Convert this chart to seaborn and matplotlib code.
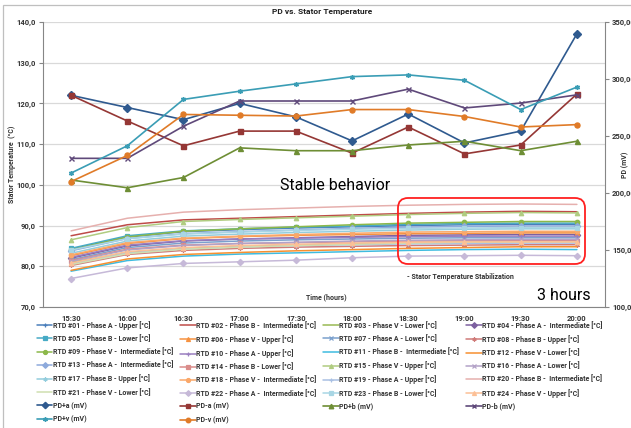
import matplotlib
matplotlib.use("Agg")
from matplotlib import pyplot as plt
from matplotlib.patches import FancyBboxPatch, Rectangle
from matplotlib.ticker import FuncFormatter, MultipleLocator, FixedLocator
import seaborn as sns

# Time axis
times = ["15:30", "16:00", "16:30", "17:00", "17:30", "18:00", "18:30", "19:00", "19:30", "20:00"]

# Stator RTD temperatures [°C] (left axis)
rtd_names = [
    "RTD #01 - Phase A - Upper [°C]", "RTD #02 - Phase B -  Intermediate [°C]",
    "RTD #03 - Phase V - Lower [°C]", "RTD #04 - Phase A -  Intermediate [°C]",
    "RTD #05 - Phase B - Lower [°C]", "RTD #06 - Phase V - Upper [°C]",
    "RTD #07 - Phase A - Lower [°C]", "RTD #08 - Phase B - Upper [°C]",
    "RTD #09 - Phase V -  Intermediate [°C]", "RTD #10 - Phase A - Upper [°C]",
    "RTD #11 - Phase B -  Intermediate [°C]", "RTD #12 - Phase V - Lower [°C]",
    "RTD #13 - Phase A -  Intermediate [°C]", "RTD #14 - Phase B - Lower [°C]",
    "RTD #15 - Phase V - Upper [°C]", "RTD #16 - Phase A - Lower [°C]",
    "RTD #17 - Phase B - Upper [°C]", "RTD #18 - Phase V -  Intermediate [°C]",
    "RTD #19 - Phase A - Upper [°C]", "RTD #20 - Phase B -  Intermediate [°C]",
    "RTD #21 - Phase V - Lower [°C]", "RTD #22 - Phase A -  Intermediate [°C]",
    "RTD #23 - Phase B - Lower [°C]", "RTD #24 - Phase V - Upper [°C]",
]
rtd01 = [84.2, 87.2, 88.5, 89.0, 89.4, 89.7, 90.0, 90.2, 90.3, 90.3]
rtd02 = [87.5, 90.2, 91.4, 91.8, 92.2, 92.6, 93.0, 93.3, 93.5, 93.4]
rtd03 = [81.0, 83.4, 84.4, 84.9, 85.2, 85.5, 85.8, 86.0, 86.1, 86.1]
rtd04 = [82.0, 85.0, 86.2, 86.7, 87.0, 87.3, 87.6, 87.7, 87.8, 87.8]
rtd05 = [84.4, 87.5, 88.7, 89.2, 89.6, 89.9, 90.3, 90.5, 90.6, 90.6]
rtd06 = [82.6, 85.6, 86.8, 87.3, 87.6, 87.8, 88.0, 88.1, 88.2, 88.2]
rtd07 = [81.6, 84.6, 85.7, 86.2, 86.5, 86.7, 86.9, 87.0, 87.0, 87.0]
rtd08 = [80.2, 82.9, 83.9, 84.4, 84.7, 84.9, 85.1, 85.2, 85.3, 85.3]
rtd09 = [84.0, 87.2, 88.6, 89.2, 89.7, 90.2, 90.6, 90.8, 91.0, 91.0]
rtd10 = [82.2, 85.2, 86.3, 86.7, 86.9, 87.1, 87.3, 87.4, 87.4, 87.4]
rtd11 = [78.8, 81.4, 82.5, 83.0, 83.3, 83.6, 83.9, 84.1, 84.2, 84.1]
rtd12 = [79.0, 81.8, 82.9, 83.4, 83.8, 84.1, 84.4, 84.6, 84.8, 84.8]
rtd13 = [83.8, 86.8, 88.0, 88.5, 88.9, 89.3, 89.6, 89.8, 89.9, 89.9]
rtd14 = [81.4, 84.2, 85.2, 85.6, 85.8, 86.0, 86.2, 86.3, 86.3, 86.3]
rtd15 = [86.5, 89.5, 91.0, 91.5, 91.9, 92.3, 92.7, 93.0, 93.2, 93.1]
rtd16 = [81.2, 84.0, 85.1, 85.6, 85.9, 86.2, 86.4, 86.5, 86.6, 86.6]
rtd17 = [83.2, 86.2, 87.4, 87.9, 88.3, 88.6, 88.9, 89.1, 89.2, 89.2]
rtd18 = [82.8, 85.8, 86.9, 87.4, 87.8, 88.1, 88.4, 88.5, 88.6, 88.6]
rtd19 = [80.6, 83.3, 84.3, 84.8, 85.1, 85.3, 85.5, 85.6, 85.7, 85.7]
rtd20 = [88.7, 91.8, 93.3, 93.9, 94.3, 94.7, 95.0, 95.2, 95.3, 95.2]
rtd21 = [80.4, 83.1, 84.2, 84.7, 85.1, 85.4, 85.7, 85.9, 86.0, 86.0]
rtd22 = [77.0, 79.6, 80.7, 81.1, 81.5, 82.1, 82.5, 82.6, 82.7, 82.6]
rtd23 = [84.0, 86.8, 87.9, 88.4, 88.8, 89.1, 89.3, 89.4, 89.5, 89.5]
rtd24 = [80.8, 83.6, 84.6, 85.1, 85.4, 85.7, 85.9, 86.0, 86.0, 86.0]
rtd_values = [rtd01, rtd02, rtd03, rtd04, rtd05, rtd06, rtd07, rtd08, rtd09, rtd10, rtd11, rtd12,
              rtd13, rtd14, rtd15, rtd16, rtd17, rtd18, rtd19, rtd20, rtd21, rtd22, rtd23, rtd24]

# Partial discharge [mV] (right axis)
pd_names = ["PD+a (mV)", "PD-a (mV)", "PD+b (mV)", "PD-b (mV)", "PD+v (mV)", "PD-v (mV)"]
pd_plus_a = [285.7, 275.0, 264.3, 278.6, 266.8, 245.7, 269.3, 243.9, 254.3, 339.6]
pd_minus_a = [285.7, 263.2, 241.4, 254.3, 254.3, 235.0, 257.9, 234.3, 242.1, 286.8]
pd_plus_b = [211.4, 204.6, 213.6, 239.6, 237.1, 237.1, 242.1, 245.4, 237.1, 245.4]
pd_minus_b = [230.4, 230.4, 258.6, 280.7, 280.7, 280.7, 291.1, 274.6, 278.9, 286.1]
pd_plus_v = [217.5, 241.4, 282.1, 289.3, 295.7, 302.1, 303.6, 298.9, 273.2, 292.9]
pd_minus_v = [210.0, 232.9, 268.9, 268.2, 267.5, 273.2, 273.2, 267.1, 257.9, 260.0]
pd_values = [pd_plus_a, pd_minus_a, pd_plus_b, pd_minus_b, pd_plus_v, pd_minus_v]

# Styles
rtd_colors = ["#4A7EBB", "#BE4B48", "#98B954", "#7D60A0", "#46AAC5", "#F69240",
              "#7BA0CD", "#D07B79", "#8CB84A", "#9A7FC0", "#3FBCE0", "#F79030",
              "#8EAADC", "#DA8C8A", "#B0CC80", "#B3A2C7", "#93CDDD", "#FAA86A",
              "#A9C0E3", "#E6B0AE", "#CFDFB0", "#C6B9D8", "#A8D6E4", "#FCC096"]
marker_cycle = ["+", "", "", "D", "s", "^", "x", (6, 2, 0), "o"]
rtd_markers = [marker_cycle[i % 9] for i in range(24)]
pd_colors = ["#2F5A8F", "#953735", "#6E8E35", "#5F497A", "#3A9DB5", "#E07B28"]
pd_markers = ["D", "s", "^", "x", (6, 2, 0), "o"]

sns.set_style("white")
plt.rcParams["font.family"] = ["Roboto", "DejaVu Sans"]
plt.rcParams["font.weight"] = "bold"
txt_color = "#333333"

fig = plt.figure(figsize=(6.31, 4.28), dpi=100)
ax = fig.add_axes([0.0681, 0.2827, 0.8907, 0.6659])
ax2 = ax.twinx()

for name, vals, col, mk in zip(rtd_names, rtd_values, rtd_colors, rtd_markers):
    sns.lineplot(x=times, y=vals, ax=ax, color=col, marker=mk, markersize=3.2,
                 markeredgecolor=col, markeredgewidth=0.9, linewidth=1.1,
                 label=name, legend=False)

for name, vals, col, mk in zip(pd_names, pd_values, pd_colors, pd_markers):
    sns.lineplot(x=times, y=vals, ax=ax2, color=col, marker=mk, markersize=3.6,
                 markeredgecolor=col, markeredgewidth=1.0, linewidth=1.2,
                 label=name, legend=False)

ax.set_xlim(-0.5, 9.5)
ax.set_ylim(70, 140)
ax2.set_ylim(100, 350)
ax.yaxis.set_major_locator(MultipleLocator(10))
ax2.yaxis.set_major_locator(MultipleLocator(50))
ax.yaxis.set_major_formatter(FuncFormatter(lambda v, p: f"{v:.1f}".replace(".", ",")))
ax2.yaxis.set_major_formatter(FuncFormatter(lambda v, p: f"{v:.2f}".replace(".", ",")))
ax.xaxis.set_minor_locator(FixedLocator([i - 0.5 for i in range(11)]))

ax.grid(axis="y", color="#D9D9D9", linewidth=0.9)
ax.set_axisbelow(True)
for a in (ax, ax2):
    a.spines["top"].set_visible(False)
    for s in ("left", "right", "bottom"):
        a.spines[s].set_color("#868686")
        a.spines[s].set_linewidth(0.8)
ax.spines["right"].set_visible(False)
ax2.spines["left"].set_visible(False)
ax2.spines["bottom"].set_visible(False)

ax.tick_params(axis="y", length=3, width=0.8, color="#868686", pad=2.5, labelsize=5.5, labelcolor=txt_color)
ax2.tick_params(axis="y", length=3, width=0.8, color="#868686", pad=2, labelsize=5.5, labelcolor=txt_color)
ax.tick_params(axis="x", which="major", length=0, pad=6, labelsize=5.5, labelcolor=txt_color)
ax.tick_params(axis="x", which="minor", length=3, width=0.8, color="#868686")

ax.set_xlabel("")
ax.set_ylabel("")
ax2.set_ylabel("")
fig.text(12 / 631, 0.615, "Stator Temperature  (°C)", rotation=90, ha="center", va="center",
         fontsize=5, color=txt_color)
fig.text(625 / 631, 0.615, "PD (mV)", rotation=90, ha="center", va="center",
         fontsize=5, color=txt_color)
fig.text(0.511, 0.972, "PD vs. Stator Temperature", ha="center", va="center",
         fontsize=6, color="#202020")

ax.text(0.505, 0.035, "Time (hours)", transform=ax.transAxes, ha="center", va="center",
        fontsize=5, color=txt_color)
ax.text(0.648, 0.105, "- Stator Temperature Stabilization", transform=ax.transAxes,
        ha="left", va="center", fontsize=5, color=txt_color)
ax.text(0.4217, 0.428, "Stable behavior", transform=ax.transAxes, ha="left", va="center",
        fontsize=11.5, fontweight="normal", color="#000000")
ax.text(0.879, 0.039, "3 hours", transform=ax.transAxes, ha="left", va="center",
        fontsize=11.5, fontweight="normal", color="#000000")

box = FancyBboxPatch((0.6307, 0.3832), 0.2964, 0.1542, transform=fig.transFigure,
                     boxstyle="round,pad=0,rounding_size=0.016", mutation_aspect=631 / 428,
                     fill=False, edgecolor="#FF2020", linewidth=1.3, zorder=10)
fig.patches.append(box)
fig.patches.append(Rectangle((3 / 631, -0.1), 1.1, (428 - 5) / 428 + 0.1, transform=fig.transFigure,
                             fill=False, edgecolor="#BFBFBF", linewidth=0.9))

# legend in row-major order like the original
h1, l1 = ax.get_legend_handles_labels()
h2, l2 = ax2.get_legend_handles_labels()
handles = h1 + h2
labels = l1 + l2
order = [i for c in range(4) for i in range(c, len(handles), 4)]
fig.legend([handles[i] for i in order], [labels[i] for i in order], ncol=4,
           loc="upper left", bbox_to_anchor=(0.0586, 0.2505), frameon=False,
           fontsize=5, labelcolor=txt_color, handlelength=2.2, handletextpad=0.1,
           columnspacing=1.0, labelspacing=0.75, borderpad=0, borderaxespad=0,
           markerscale=0.9)

fig.savefig("out.png", dpi=100)
